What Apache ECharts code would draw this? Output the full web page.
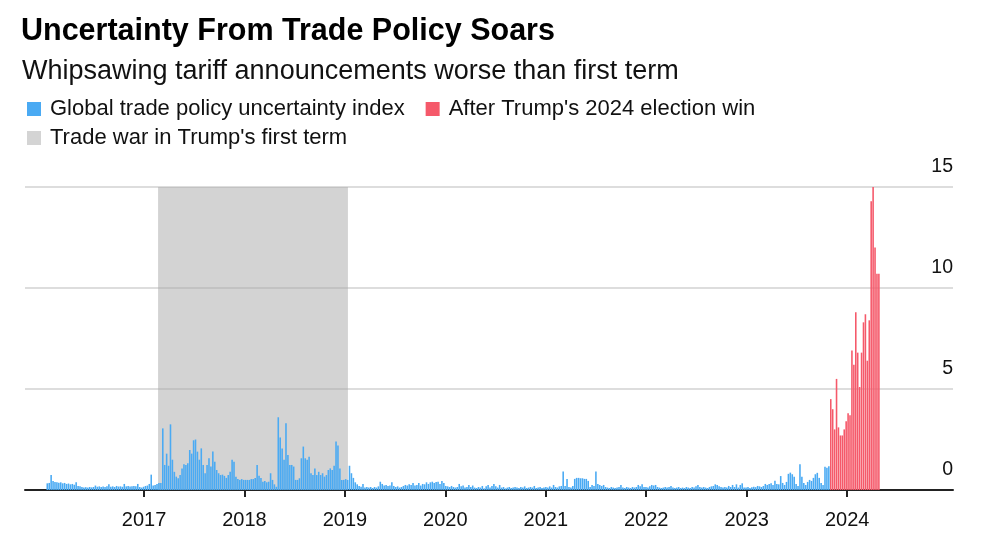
<!DOCTYPE html>
<html>
<head>
<meta charset="utf-8">
<script src="https://cdn.jsdelivr.net/npm/echarts@6/dist/echarts.min.js"></script>
<style>
  html, body { margin: 0; padding: 0; background: #fff; }
  #chart { width: 1000px; height: 545px; }
</style>
</head>
<body>
<div id="chart"></div>
<script>
// weekly index values, one array per labelled year
var y2016 = [
  0.33,0.35,0.74,0.45,0.4,0.38,0.36,0.38,0.33,0.35,0.3,0.32,0.28,
  0.3,0.26,0.38,0.2,0.18,0.15,0.12,0.14,0.12,0.15,0.13,0.15,0.22,
  0.16,0.18,0.15,0.17,0.15,0.18,0.28,0.16,0.18,0.15,0.2,0.17,0.18,
  0.16,0.3,0.18,0.2,0.17,0.18,0.2,0.18,0.3,0.15,0.12,0.16
];
var y2017 = [
  0.2,0.22,0.3,0.76,0.22,0.25,0.3,0.35,0.35,3.05,1.24,1.8,1.2,
  3.25,1.5,0.9,0.66,0.58,0.74,1.07,1.27,1.24,1.32,1.98,1.8,2.46,
  2.5,1.9,1.5,2.06,1.24,0.83,1.24,1.57,1.16,1.9,1.4,0.99,0.83,
  0.74,0.76,0.7,0.6,0.74,0.9,1.5,1.4,0.66,0.54,0.5,0.54,0.5
];
var y2018 = [
  0.5,0.5,0.5,0.54,0.54,0.6,1.24,0.7,0.6,0.41,0.45,0.38,0.41,
  0.83,0.5,0.28,0.16,3.6,2.6,2.06,1.5,3.3,1.73,1.24,1.24,1.16,
  0.5,0.5,0.58,1.57,2.15,1.57,1.5,1.65,0.83,0.74,1.07,0.74,0.9,
  0.74,0.83,0.66,0.74,0.99,1.07,0.99,1.2,2.4,2.2,1.07,0.5,0.5
];
var y2019 = [
  0.54,0.5,1.2,0.83,0.6,0.38,0.28,0.2,0.16,0.3,0.12,0.15,0.12,
  0.15,0.1,0.15,0.12,0.18,0.41,0.3,0.22,0.25,0.2,0.22,0.38,0.2,
  0.15,0.18,0.12,0.15,0.2,0.25,0.22,0.28,0.25,0.35,0.22,0.25,0.35,
  0.22,0.3,0.28,0.38,0.3,0.38,0.41,0.35,0.4,0.41,0.3,0.45,0.35
];
var y2020 = [
  0.2,0.18,0.15,0.2,0.15,0.12,0.15,0.3,0.18,0.22,0.12,0.15,0.25,
  0.15,0.22,0.12,0.1,0.15,0.12,0.2,0.08,0.18,0.25,0.12,0.2,0.3,
  0.18,0.12,0.25,0.12,0.15,0.08,0.12,0.15,0.1,0.12,0.15,0.12,0.1,
  0.15,0.12,0.18,0.1,0.12,0.15,0.12,0.2,0.1,0.12,0.15,0.1,0.12
];
var y2021 = [
  0.15,0.12,0.18,0.12,0.25,0.15,0.12,0.18,0.2,0.91,0.2,0.54,0.15,
  0.12,0.2,0.55,0.6,0.6,0.58,0.58,0.55,0.55,0.45,0.15,0.25,0.2,
  0.91,0.3,0.25,0.2,0.25,0.15,0.12,0.1,0.15,0.12,0.1,0.12,0.15,
  0.25,0.12,0.1,0.15,0.12,0.1,0.15,0.12,0.15,0.25,0.18,0.28,0.15
];
var y2022 = [
  0.15,0.12,0.18,0.25,0.22,0.25,0.15,0.12,0.1,0.12,0.15,0.12,0.15,
  0.2,0.12,0.1,0.12,0.15,0.1,0.12,0.1,0.15,0.12,0.1,0.15,0.12,
  0.18,0.25,0.15,0.12,0.15,0.12,0.1,0.15,0.18,0.2,0.28,0.25,0.18,
  0.15,0.12,0.15,0.12,0.2,0.15,0.25,0.15,0.28,0.12,0.25,0.33,0.12
];
var y2023 = [
  0.12,0.15,0.1,0.14,0.16,0.14,0.2,0.18,0.15,0.2,0.3,0.25,0.3,
  0.33,0.25,0.46,0.3,0.28,0.69,0.35,0.25,0.4,0.8,0.86,0.78,0.65,
  0.3,0.2,1.27,0.65,0.35,0.25,0.4,0.5,0.45,0.6,0.78,0.85,0.6,
  0.35,0.25,1.15,1.1,1.17
];
// weeks after the election win
var afterWin = [
  4.5,4.0,3.0,5.5,3.1,2.7,2.7,3.0,3.4,3.8,3.7,6.9,6.2,
  8.8,6.8,5.1,6.8,8.3,8.7,6.4,8.4,14.3,15.0,12.0,10.7,10.7
];
var yearTicks = [2017, 2018, 2019, 2020, 2021, 2022, 2023, 2024];
var tradeWar = [2017.14, 2019.03];
var firstWeek = 2016.034;   // date of first weekly reading, in years
var weekStep = 7 / 365.25;

var blueVals = [].concat(y2016, y2017, y2018, y2019, y2020, y2021, y2022, y2023);
var blueData = blueVals.map(function (v, i) { return [firstWeek + i * weekStep, v]; });
var redData = afterWin.map(function (v, i) { return [firstWeek + (blueVals.length + i) * weekStep, v]; });

var FONT = 'Liberation Sans, Arial, sans-serif';
var BLUE = '#4aaaf3', RED = '#f5596a';

var chart = echarts.init(document.getElementById('chart'), null, { renderer: 'canvas' });
chart.setOption({
  animation: false,
  textStyle: { fontFamily: FONT },
  title: [{
    text: 'Uncertainty From Trade Policy Soars',
    left: 21, top: 16, padding: 0,
    textStyle: { fontFamily: FONT, fontSize: 30.5, fontWeight: 'bold', color: '#000' }
  }, {
    text: 'Whipsawing tariff announcements worse than first term',
    left: 22, top: 58, padding: 0,
    textStyle: { fontFamily: FONT, fontSize: 27, fontWeight: 'normal', color: '#111' }
  }],
  legend: [{
    data: ['Global trade policy uncertainty index', "After Trump's 2024 election win"],
    left: 27, top: 98, padding: 0,
    icon: 'rect', itemWidth: 14, itemHeight: 14, itemGap: 21,
    selectedMode: false,
    textStyle: { fontFamily: FONT, fontSize: 22, color: '#111', padding: [0, 0, 0, 4] }
  }, {
    data: ["Trade war in Trump's first term"],
    left: 27, top: 127, padding: 0,
    icon: 'rect', itemWidth: 14, itemHeight: 14,
    selectedMode: false,
    textStyle: { fontFamily: FONT, fontSize: 22, color: '#111', padding: [0, 0, 0, 4] }
  }],
  grid: { left: 25, right: 47, top: 187, bottom: 55 },
  xAxis: {
    type: 'value',
    min: 2015.815, max: 2025.054,
    splitLine: { show: false },
    axisLine: { lineStyle: { color: '#222', width: 2 } },
    axisTick: { customValues: yearTicks, length: 7, lineStyle: { color: '#222', width: 2 } },
    axisLabel: {
      customValues: yearTicks,
      formatter: function (v) { return String(v); },
      fontFamily: FONT, fontSize: 20, color: '#111', margin: 20
    }
  },
  yAxis: {
    type: 'value', position: 'right',
    min: 0, max: 15, interval: 5,
    axisLine: { show: false },
    axisTick: { show: false },
    splitLine: { lineStyle: { color: '#d2d2d2', width: 1.5 } },
    axisLabel: {
      inside: true, margin: 0, verticalAlign: 'bottom', padding: [0, 0, 10, 0],
      fontFamily: FONT, fontSize: 19.5, color: '#111'
    }
  },
  series: [{
    name: 'Global trade policy uncertainty index',
    type: 'bar', data: blueData,
    barWidth: '82%', barGap: '-100%',
    itemStyle: { color: BLUE },
    z: 3,
    markArea: {
      silent: true, z: 1,
      itemStyle: { color: 'rgba(168,168,168,0.5)' },
      data: [[{ xAxis: tradeWar[0], yAxis: 0 }, { xAxis: tradeWar[1], yAxis: 15 }]]
    }
  }, {
    name: "After Trump's 2024 election win",
    type: 'bar', data: redData,
    barWidth: '82%', barGap: '-100%',
    itemStyle: { color: RED },
    z: 3
  }, {
    name: "Trade war in Trump's first term",
    type: 'bar', data: [],
    itemStyle: { color: '#d4d4d4' }
  }]
});
</script>
</body>
</html>
